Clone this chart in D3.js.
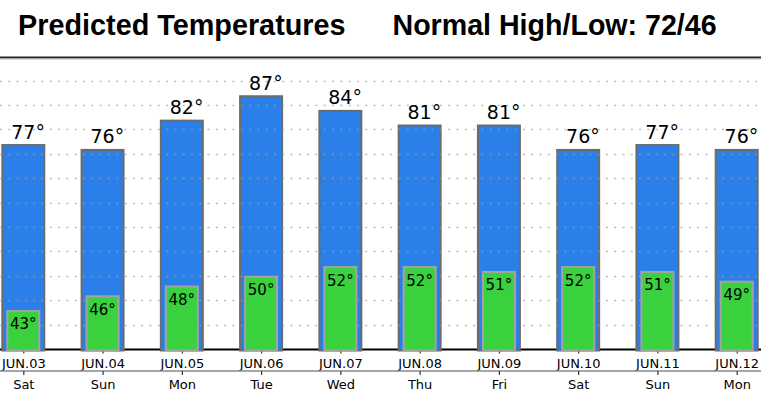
<!DOCTYPE html>
<html>
<head>
<meta charset="utf-8">
<script src="https://cdn.jsdelivr.net/npm/d3@7/dist/d3.min.js"></script>
<style>
  html, body { margin: 0; padding: 0; background: #fff; }
  svg { display: block; }
</style>
</head>
<body>
<svg id="chart" width="761" height="395"></svg>
<script>
const titleLeft = "Predicted Temperatures";
const titleRight = "Normal High/Low: 72/46";
const dates = ["JUN.03","JUN.04","JUN.05","JUN.06","JUN.07","JUN.08","JUN.09","JUN.10","JUN.11","JUN.12"];
const days = ["Sat","Sun","Mon","Tue","Wed","Thu","Fri","Sat","Sun","Mon"];
const highs = [77,76,82,87,84,81,81,76,77,76];
const lows = [43,46,48,50,52,52,51,52,51,49];
const gridTicks = [40,45,50,55,60,65,70,75,80,85,90];

const W = 761, H = 395;
const svg = d3.select("#chart");

const x = d3.scalePoint().domain(d3.range(dates.length)).range([23.3, 736.7]);
const y = d3.scaleLinear().domain([35, 90]).range([349, 80.6]);
const base = y(35);

// Title
svg.append("text").attr("x", 18).attr("y", 35)
  .attr("font-family", "'Liberation Sans', Arial, sans-serif").attr("font-weight", "bold")
  .attr("font-size", 28.8).attr("fill", "#000").text(titleLeft);
svg.append("text").attr("x", 392.5).attr("y", 35)
  .attr("font-family", "'Liberation Sans', Arial, sans-serif").attr("font-weight", "bold")
  .attr("font-size", 28.6).attr("fill", "#000").text(titleRight);

// header rule
svg.append("line").attr("x1", 0).attr("x2", W).attr("y1", 57.5).attr("y2", 57.5)
  .attr("stroke", "#222").attr("stroke-width", 2);
svg.append("line").attr("x1", 0).attr("x2", W).attr("y1", 59).attr("y2", 59)
  .attr("stroke", "#bbb").attr("stroke-width", 1);

const tickFont = "'DejaVu Sans', sans-serif";

// baseline axis (behind bars)
const axTop = svg.append("g").attr("transform", `translate(0,${base + 0.5})`)
  .call(d3.axisBottom(x).tickSize(4).tickPadding(3).tickFormat(i => dates[i]));
axTop.attr("font-size", null).attr("font-family", null);
axTop.select(".domain").remove();
axTop.insert("line", ":first-child").attr("x1", 0).attr("x2", W).attr("y1", 0).attr("y2", 0)
  .attr("stroke", "#000").attr("stroke-width", 2);
axTop.selectAll(".tick line").attr("stroke", "#333").attr("stroke-width", 1.2);
axTop.selectAll(".tick text").style("font-family", tickFont)
  .style("font-size", "13px").attr("fill", "#000").attr("dy", null).attr("y", 18);

// High bars
svg.append("g").selectAll("rect").data(highs).join("rect")
  .attr("x", (d, i) => x(i) - 21).attr("width", 42)
  .attr("y", d => y(d) + 1).attr("height", d => base + 1.5 - (y(d) + 1))
  .attr("fill", "#2a7fe9").attr("stroke", "#6c6c6c").attr("stroke-width", 2);

// grid over blue bars
svg.append("g").selectAll("line").data(gridTicks).join("line")
  .attr("x1", 0).attr("x2", W)
  .attr("y1", d => Math.round(y(d)) + 0.5).attr("y2", d => Math.round(y(d)) + 0.5)
  .attr("stroke", "rgba(160,160,160,0.7)").attr("stroke-width", 1.5)
  .attr("stroke-dasharray", "2,6.3");

// Low bars
svg.append("g").selectAll("rect").data(lows).join("rect")
  .attr("x", (d, i) => x(i) - 16).attr("width", 32)
  .attr("y", d => y(d) + 1).attr("height", d => base + 1.5 - (y(d) + 1))
  .attr("fill", "#3ad13e").attr("stroke", "#a3a3a3").attr("stroke-width", 2);

// High labels
const hiFs = 19;
svg.append("g").selectAll("text").data(highs).join("text")
  .attr("x", (d, i) => x(i) + hiFs * 0.25).attr("y", d => y(d) - 5.5)
  .attr("text-anchor", "middle").attr("font-family", tickFont)
  .attr("font-size", hiFs).attr("fill", "#000").text(d => d + "°");

// Low labels
svg.append("g").selectAll("text").data(lows).join("text")
  .attr("x", (d, i) => x(i)).attr("y", d => y(d) + 19.5)
  .attr("text-anchor", "middle").attr("font-family", tickFont)
  .attr("font-size", 15).attr("fill", "#000").text(d => d + "°");

// day axis
const axDay = svg.append("g").attr("transform", "translate(0,371)")
  .call(d3.axisBottom(x).tickSize(4).tickPadding(3).tickFormat(i => days[i]));
axDay.attr("font-size", null).attr("font-family", null);
axDay.select(".domain").remove();
axDay.insert("line", ":first-child").attr("x1", 0).attr("x2", W).attr("y1", 0).attr("y2", 0)
  .attr("stroke", "#888").attr("stroke-width", 1.5);
axDay.selectAll(".tick line").attr("stroke", "#333").attr("stroke-width", 1.2);
axDay.selectAll(".tick text").style("font-family", tickFont)
  .style("font-size", "13px").attr("fill", "#000").attr("dy", null).attr("y", 18);
</script>
</body>
</html>
